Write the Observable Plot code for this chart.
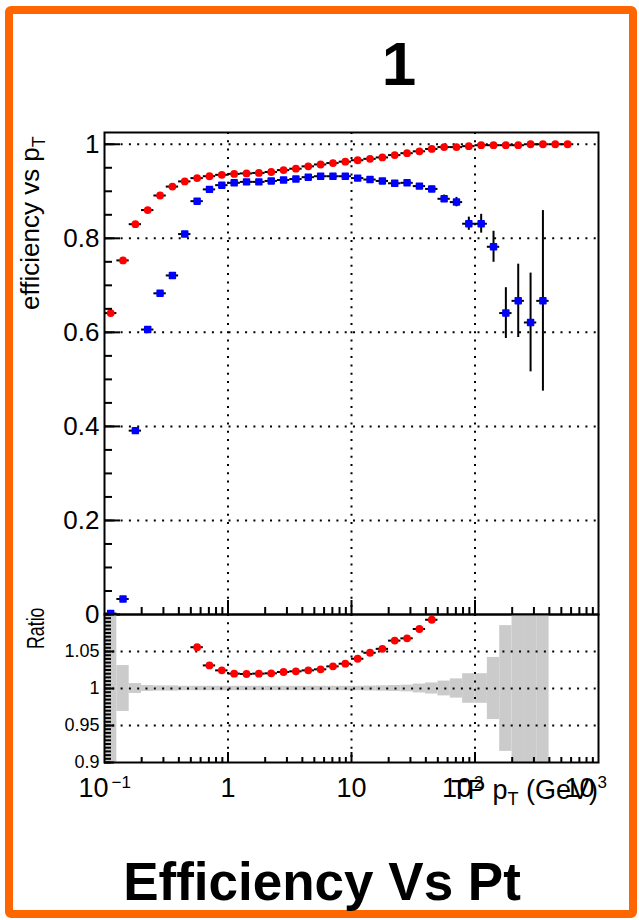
<!DOCTYPE html>
<html>
<head>
<meta charset="utf-8">
<script src="https://cdn.jsdelivr.net/npm/d3@7"></script>
<script src="https://cdn.jsdelivr.net/npm/@observablehq/plot@0.6"></script>
<style>
  body { margin: 0; background: #fff; }
  #page { position: relative; width: 639px; height: 920px; overflow: hidden; background: #fff;
          font-family: "Liberation Sans", Arial, Helvetica, sans-serif; }
  #border { position: absolute; left: 5px; top: 6px; width: 632px; height: 912px; box-sizing: border-box;
            border: 8px solid #ff6600; border-radius: 6px; }
  .panel { position: absolute; left: 0; }
</style>
</head>
<body>
<div id="page">
  <div id="border"></div>
  <div id="top" class="panel" style="top:100px"></div>
  <div id="ratio" class="panel" style="top:604px"></div>
</div>
<script>
// Track-pT binning: 0.1 decade wide bins, lower/upper edges in GeV
const ptEdges = [0.1, 0.1259, 0.1585, 0.1995, 0.2512, 0.3162, 0.3981, 0.5012, 0.631, 0.7943,
  1, 1.259, 1.585, 1.995, 2.512, 3.162, 3.981, 5.012, 6.31, 7.943,
  10, 12.59, 15.85, 19.95, 25.12, 31.62, 39.81, 50.12, 63.1, 79.43,
  100, 125.9, 158.5, 199.5, 251.2, 316.2, 398.1, 501.2, 631.0];

// Efficiency vs TP pT, red sample
const effRed = [0.641, 0.753, 0.830, 0.860, 0.891, 0.910, 0.921, 0.928, 0.932, 0.935,
  0.937, 0.938, 0.939, 0.941, 0.945, 0.948, 0.953, 0.957, 0.960, 0.963,
  0.966, 0.969, 0.972, 0.977, 0.981, 0.985, 0.990, 0.994, 0.994, 0.996,
  0.998, 0.998, 0.998, 0.998, 1.000, 1.000, 1.000, 1.000];

// Efficiency vs TP pT, blue sample, and its statistical uncertainty
const effBlue = [0.002, 0.033, 0.391, 0.606, 0.683, 0.721, 0.809, 0.879, 0.904, 0.913,
  0.918, 0.920, 0.920, 0.922, 0.924, 0.926, 0.930, 0.932, 0.932, 0.932,
  0.928, 0.925, 0.922, 0.917, 0.918, 0.911, 0.905, 0.884, 0.877, 0.831,
  0.831, 0.782, 0.641, 0.667, 0.621, 0.667];
const errBlue = [0.002, 0.004, 0.006, 0.005, 0.005, 0.005, 0.005, 0.003, 0.003, 0.003,
  0.003, 0.003, 0.003, 0.003, 0.003, 0.003, 0.003, 0.003, 0.003, 0.003,
  0.003, 0.004, 0.004, 0.004, 0.004, 0.005, 0.006, 0.008, 0.010, 0.014,
  0.020, 0.033, 0.054, 0.078, 0.105, 0.192];

// Ratio red / blue (null where it falls outside the 0.9 - 1.1 window)
const ratio = [null, null, null, null, null, null, null, 1.0558, 1.0312, 1.0245,
  1.0201, 1.0196, 1.0201, 1.0205, 1.0223, 1.0232, 1.0245, 1.0259, 1.0299, 1.0335,
  1.0402, 1.0483, 1.0536, 1.0647, 1.0678, 1.0804, 1.0929, null, null, null,
  null, null, null, null, null, null, null, null];

// Half width of the grey reference-uncertainty band around 1
const bandHalf = [0.2, 0.031, 0.0067, 0.004, 0.0035, 0.0035, 0.003, 0.003, 0.003, 0.003,
  0.003, 0.003, 0.003, 0.003, 0.003, 0.003, 0.003, 0.003, 0.003, 0.003,
  0.003, 0.0033, 0.0036, 0.004, 0.0045, 0.006, 0.0075, 0.010, 0.013, 0.020,
  0.020, 0.042, 0.085, 0.2, 0.2, 0.2, null, null];

// Axis ticks and labels
const effTicks = [0, 0.2, 0.4, 0.6, 0.8, 1];
const effTickLabels = ["0", "0.2", "0.4", "0.6", "0.8", "1"];
const ratioTicks = [0.9, 0.95, 1, 1.05];
const ratioTickLabels = ["0.9", "0.95", "1", "1.05"];
const ptTicks = [0.1, 1, 10, 100, 1000];
const ptTickBase = ["10", "1", "10", "10", "10"];
const ptTickExp = ["\u22121", "", "", "2", "3"];
const ptGrid = [1, 10, 100];
const effGrid = [0.2, 0.4, 0.6, 0.8, 1];
const ratioGrid = [0.95, 1, 1.05];

// label nudges (px) for the power-of-ten labels: mantissa end, exponent start
const ptBaseShift = [4, 0, 0, -3, -4];
const ptExpShift = [7, 0, 0, -1, -1];

const FONT = '"Liberation Sans", Arial, Helvetica, sans-serif';
const W = 639, ML = 104, MR = 41;
const frameW = W - ML - MR;

const bins = effRed.map((v, i) => {
  const lo = ptEdges[i], hi = ptEdges[i + 1];
  return {i, lo, hi, c: Math.sqrt(lo * hi), red: v, blue: effBlue[i], eb: errBlue[i], ratio: ratio[i], band: bandHalf[i]};
});
const redRows = bins;
const blueRows = bins.filter(d => d.blue != null);
const ratioRows = bins.filter(d => d.ratio != null);
const bandRows = bins.filter(d => d.band != null);

const minorPt = d3.scaleLog().domain([0.1, 1000]).ticks().filter(t => !ptTicks.includes(t));
const dotted = {stroke: "#000", strokeWidth: 2, strokeDasharray: "2,6.3"};
const blk = {stroke: "#000", strokeWidth: 2};

// ---------- efficiency panel ----------
const topH = 520, topMT = 32, topMB = 6;
const topFrameH = topH - topMT - topMB;
const effMinor = d3.range(0, 1.0001, 0.05).map(v => +v.toFixed(2));

const topPlot = Plot.plot({
  width: W, height: topH,
  marginTop: topMT, marginBottom: topMB, marginLeft: ML, marginRight: MR,
  style: {background: "transparent", overflow: "visible", fontFamily: FONT, color: "#000"},
  x: {type: "log", domain: [0.1, 1000], axis: null},
  y: {domain: [0, 1.025], axis: null},
  marks: [
    Plot.ruleY(effGrid, dotted),
    Plot.ruleX(ptGrid, dotted),
    Plot.ruleY(redRows, {y: "red", x1: "lo", x2: "hi", ...blk}),
    Plot.ruleY(blueRows, {y: "blue", x1: "lo", x2: "hi", ...blk}),
    Plot.ruleX(blueRows, {x: "c", y1: d => d.blue - d.eb, y2: d => d.blue + d.eb, ...blk}),
    Plot.dot(redRows, {x: "c", y: "red", r: 3.9, fill: "#ff0000"}),
    Plot.dot(blueRows, {x: "c", y: "blue", symbol: "square", r: 3.3, fill: "#0000ff", stroke: "#0000ff", strokeWidth: 1.6, strokeLinejoin: "round"}),
    // inward ticks: y on the left, pT along the bottom
    Plot.ruleY(effMinor, {...blk, insetRight: frameW - 8}),
    Plot.ruleY(effTicks, {...blk, insetRight: frameW - 16}),
    Plot.ruleX(minorPt, {...blk, insetTop: topFrameH - 7}),
    Plot.ruleX(ptGrid, {...blk, insetTop: topFrameH - 14}),
    Plot.frame({stroke: "#000", strokeWidth: 2}),
    Plot.text(effTicks, {y: d => d, text: (d, i) => effTickLabels[i], frameAnchor: "left", textAnchor: "end", dx: -5, fontSize: 26, fill: "#000"})
  ]
});
document.getElementById("top").appendChild(topPlot);

// ---------- ratio panel ----------
const rH = 216, rMT = 10, rMB = 58;
const rFrameH = rH - rMT - rMB;
const ratioMinor = d3.range(0.9, 1.1001, 0.005).map(v => +v.toFixed(3));
const xLabelRows = ptTicks.map((v, i) => ({v, base: ptTickBase[i], exp: ptTickExp[i], bs: ptBaseShift[i], es: ptExpShift[i]}));
const plainLabels = xLabelRows.filter(d => !d.exp);
const powerLabels = xLabelRows.filter(d => d.exp);

const ratioPlot = Plot.plot({
  width: W, height: rH,
  marginTop: rMT, marginBottom: rMB, marginLeft: ML, marginRight: MR,
  style: {background: "transparent", overflow: "visible", fontFamily: FONT, color: "#000"},
  x: {type: "log", domain: [0.1, 1000], axis: null},
  y: {domain: [0.9, 1.1], axis: null},
  marks: [
    Plot.rect(bandRows, {x1: "lo", x2: "hi", y1: d => Math.max(0.9, 1 - d.band), y2: d => Math.min(1.1, 1 + d.band), fill: "#cbcbcb"}),
    Plot.ruleY(ratioGrid, dotted),
    Plot.ruleX(ptGrid, dotted),
    Plot.ruleY(ratioRows, {y: "ratio", x1: "lo", x2: "hi", ...blk}),
    Plot.dot(ratioRows, {x: "c", y: "ratio", r: 3.9, fill: "#ff0000"}),
    Plot.ruleY(ratioMinor, {...blk, insetRight: frameW - 7}),
    Plot.ruleY([0.9, 0.95, 1, 1.05, 1.1], {...blk, insetRight: frameW - 10}),
    Plot.ruleX(minorPt, {...blk, insetTop: rFrameH - 5}),
    Plot.ruleX(ptGrid, {...blk, insetTop: rFrameH - 10}),
    Plot.frame({stroke: "#000", strokeWidth: 2}),
    Plot.text(ratioTicks, {y: d => d, text: (d, i) => ratioTickLabels[i], frameAnchor: "left", textAnchor: "end", dx: -5, fontSize: 18, fill: "#000"}),
    // pT tick labels: plain numbers, then mantissa + exponent for powers of ten
    Plot.text(plainLabels, {x: "v", text: "base", frameAnchor: "bottom", lineAnchor: "top", dy: 15, fontSize: 27, fill: "#000"}),
    ...powerLabels.map(d => Plot.text([d], {x: "v", text: "base", frameAnchor: "bottom", lineAnchor: "top", dy: 15, dx: d.bs, textAnchor: "end", fontSize: 27, fill: "#000"})),
    ...powerLabels.map(d => Plot.text([d], {x: "v", text: "exp", frameAnchor: "bottom", lineAnchor: "top", dy: 13, dx: d.es, textAnchor: "start", fontSize: 17, fill: "#000"}))
  ]
});
document.getElementById("ratio").appendChild(ratioPlot);

// ---------- titles ----------
const page = d3.select("#page");
const ov = page.append("svg")
  .attr("width", W).attr("height", 920)
  .style("position", "absolute").style("left", 0).style("top", 0)
  .style("pointer-events", "none")
  .attr("font-family", FONT).attr("fill", "#000");

ov.append("text").attr("x", 399).attr("y", 85).attr("text-anchor", "middle")
  .attr("font-weight", "bold").attr("font-size", 62).text("1");

const yt = ov.append("text").attr("transform", "translate(38.5,310) rotate(-90)").attr("font-size", 26);
yt.append("tspan").text("efficiency vs p");
yt.append("tspan").attr("font-size", 18).attr("dy", 6).text("T");

ov.append("text").attr("transform", "translate(44,649) rotate(-90) scale(0.74,1)").attr("font-size", 24).text("Ratio");

const xt = ov.append("text").attr("x", 598).attr("y", 799).attr("text-anchor", "end").attr("font-size", 27);
xt.append("tspan").text("TP p");
xt.append("tspan").attr("font-size", 18).attr("dy", 6).text("T");
xt.append("tspan").attr("dy", -6).text(" (GeV)");

ov.append("text").attr("x", 322).attr("y", 900).attr("text-anchor", "middle")
  .attr("font-weight", "bold").attr("font-size", 53).text("Efficiency Vs Pt");
</script>
</body>
</html>
